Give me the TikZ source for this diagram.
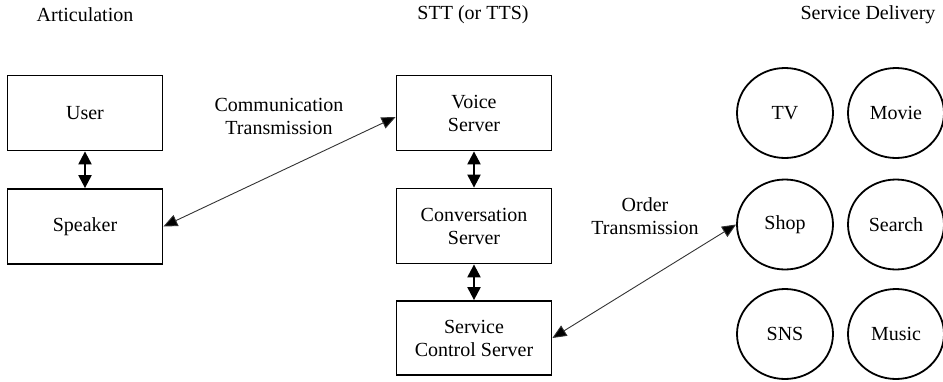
\documentclass[tikz,border=0pt]{standalone}
\usepackage{fontspec}
\setmainfont{Liberation Serif}
\usetikzlibrary{arrows.meta,shapes.geometric}
\begin{document}
\begin{tikzpicture}[x=1pt,y=-1pt,
  every node/.style={font=\fontsize{20}{23}\selectfont, align=center},
  box/.style={draw, line width=1.8pt, rectangle, minimum width=155pt, minimum height=75pt, inner sep=0pt},
  svc/.style={draw, line width=1.8pt, ellipse, minimum width=96pt, minimum height=90pt, inner sep=0pt},
  link/.style={line width=2.2pt, {Triangle[length=13pt,width=13pt]}-{Triangle[length=13pt,width=13pt]}},
  wire/.style={line width=0.9pt, draw=black!80, {Triangle[length=14pt,width=12pt,fill=black]}-{Triangle[length=14pt,width=12pt,fill=black]}},
  heading/.style={}
]
\useasboundingbox (0,0) rectangle (943,381);

% column headings
\node[heading] (h1) at (85,15) {Articulation};
\node[heading] (h2) at (473,15) {STT (or TTS)};
\node[heading] (h3) at (868,15) {Service Delivery};

% articulation side
\node[box] (user) at (85,113) {User};
\node[box] (speaker) at (85,226.5) {Speaker};

% server chain
\node[box] (voice) at (474,113) {Voice\\Server};
\node[box] (conv) at (474,226) {Conversation\\Server};
\node[box, minimum height=74pt] (ctrl) at (474,338) {Service\\Control Server};

% services
\node[svc] (tv) at (785,113) {TV};
\node[svc] (movie) at (896,113) {Movie};
\node[svc] (shop) at (785,224.5) {Shop};
\node[svc] (search) at (896,224.5) {Search};
\node[svc] (sns) at (785,334) {SNS};
\node[svc] (music) at (896,334) {Music};

% links
\draw[link] (user) -- (speaker);
\draw[link] (voice) -- (conv);
\draw[link] (conv) -- (ctrl);
\draw[wire] (speaker.east) -- ([yshift=-4pt]voice.west);
\draw[wire] (ctrl.east) -- (shop.west);

% link labels
\node (lcomm) at (279,116.5) {Communication\\Transmission};
\node (lorder) at (645,216.5) {Order\\Transmission};
\end{tikzpicture}
\end{document}
